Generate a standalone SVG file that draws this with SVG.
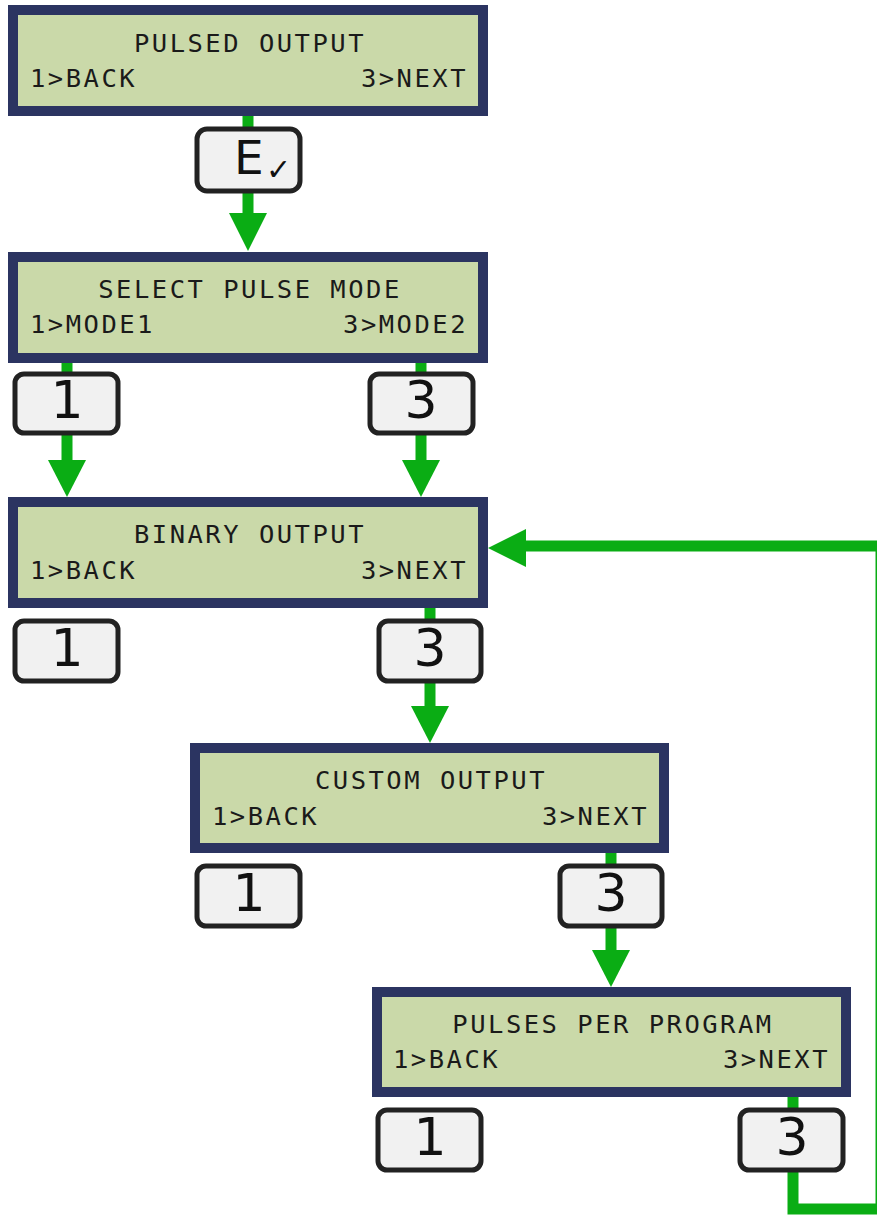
<svg xmlns="http://www.w3.org/2000/svg" width="877" height="1215" viewBox="0 0 877 1215">
<defs>
<style>
.lcd{fill:#cad9a9;stroke:#2b3461;stroke-width:10}
.lt{font-family:"DejaVu Sans Mono","Liberation Mono",monospace;font-size:25.5px;fill:#1a1a1a;letter-spacing:2.5px}
.key{fill:#f1f1f1;stroke:#222;stroke-width:5}
.kt{font-family:"DejaVu Sans","Liberation Sans",sans-serif;font-size:52px;fill:#111;text-anchor:middle}
.ln{fill:none;stroke:#0aad14;stroke-width:11}
.ah{fill:#0aad14}
</style>
</defs>
<g id="connectors">
<line class="ln" x1="248" y1="110" x2="248" y2="215"/>
<polygon class="ah" points="229,213 267,213 248,251"/>
<line class="ln" x1="67" y1="360" x2="67" y2="462"/>
<polygon class="ah" points="48,460 86,460 67,497"/>
<line class="ln" x1="421" y1="360" x2="421" y2="462"/>
<polygon class="ah" points="402,460 440,460 421,497"/>
<line class="ln" x1="430" y1="605" x2="430" y2="708"/>
<polygon class="ah" points="411,706 449,706 430,743"/>
<line class="ln" x1="611" y1="850" x2="611" y2="952"/>
<polygon class="ah" points="592,950 630,950 611,987"/>
<path class="ln" d="M793 1095 V1209 H881 V546 H520" stroke-width="12"/>
<polygon class="ah" points="526,529 526,567 488,548"/>
</g>
<g id="lcd-pulsed-output">
<rect class="lcd" x="13" y="10" width="470" height="101"/>
<text class="lt" x="250" y="52" text-anchor="middle">PULSED OUTPUT</text>
<text class="lt" x="30" y="87">1&gt;BACK</text>
<text class="lt" x="468" y="87" text-anchor="end">3&gt;NEXT</text>
</g>
<g id="key-enter">
<rect class="key" x="197" y="129" width="103" height="62" rx="10"/>
<text font-family="DejaVu Sans, Liberation Sans, sans-serif" font-size="47" fill="#111" x="234" y="174">E</text>
<text font-family="DejaVu Sans, sans-serif" font-size="30" font-weight="bold" fill="#111" x="266" y="180">✓</text>
</g>
<g id="lcd-select-pulse-mode">
<rect class="lcd" x="13" y="257" width="470" height="101"/>
<text class="lt" x="250" y="298" text-anchor="middle">SELECT PULSE MODE</text>
<text class="lt" x="30" y="333">1&gt;MODE1</text>
<text class="lt" x="468" y="333" text-anchor="end">3&gt;MODE2</text>
</g>
<g id="key-1-mode">
<rect class="key" x="15" y="374" width="103" height="59" rx="9"/>
<text class="kt" x="67" y="418">1</text>
</g>
<g id="key-3-mode">
<rect class="key" x="370" y="374" width="103" height="59" rx="9"/>
<text class="kt" x="421" y="418">3</text>
</g>
<g id="lcd-binary-output">
<rect class="lcd" x="13" y="502" width="470" height="101"/>
<text class="lt" x="250" y="543" text-anchor="middle">BINARY OUTPUT</text>
<text class="lt" x="30" y="579">1&gt;BACK</text>
<text class="lt" x="468" y="579" text-anchor="end">3&gt;NEXT</text>
</g>
<g id="key-1-binary">
<rect class="key" x="15" y="621" width="103" height="60" rx="9"/>
<text class="kt" x="67" y="666">1</text>
</g>
<g id="key-3-binary">
<rect class="key" x="379" y="621" width="102" height="60" rx="9"/>
<text class="kt" x="430" y="666">3</text>
</g>
<g id="lcd-custom-output">
<rect class="lcd" x="195" y="748" width="469" height="100"/>
<text class="lt" x="431" y="789" text-anchor="middle">CUSTOM OUTPUT</text>
<text class="lt" x="212" y="825">1&gt;BACK</text>
<text class="lt" x="649" y="825" text-anchor="end">3&gt;NEXT</text>
</g>
<g id="key-1-custom">
<rect class="key" x="197" y="866" width="103" height="60" rx="9"/>
<text class="kt" x="249" y="911">1</text>
</g>
<g id="key-3-custom">
<rect class="key" x="560" y="866" width="102" height="60" rx="9"/>
<text class="kt" x="611" y="911">3</text>
</g>
<g id="lcd-pulses-per-program">
<rect class="lcd" x="377" y="992" width="469" height="100"/>
<text class="lt" x="613" y="1033" text-anchor="middle">PULSES PER PROGRAM</text>
<text class="lt" x="393" y="1068">1&gt;BACK</text>
<text class="lt" x="830" y="1068" text-anchor="end">3&gt;NEXT</text>
</g>
<g id="key-1-ppp">
<rect class="key" x="378" y="1110" width="103" height="60" rx="9"/>
<text class="kt" x="430" y="1155">1</text>
</g>
<g id="key-3-ppp">
<rect class="key" x="740" y="1110" width="103" height="60" rx="9"/>
<text class="kt" x="792" y="1155">3</text>
</g>
</svg>
